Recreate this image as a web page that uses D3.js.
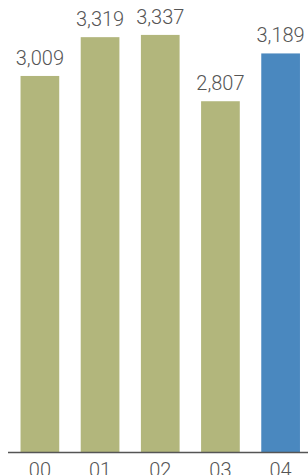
<!DOCTYPE html>
<html><head><meta charset="utf-8">
<script src="https://cdn.jsdelivr.net/npm/d3@7"></script>
<style>body{margin:0;background:#fff}svg{display:block}</style>
</head><body>
<script>
const categories = ["00","01","02","03","04"];
const values = [3009, 3319, 3337, 2807, 3189];
const highlight = ["04"];

const W = 308, H = 475;
const svg = d3.select("body").append("svg").attr("width", W).attr("height", H);
const x = d3.scaleBand().domain(categories).range([8.5, 312]).paddingInner(0.357).paddingOuter(0.2);
const y = d3.scaleLinear().domain([0, 3600]).range([452.5, 2]);

svg.selectAll("rect.bar").data(categories).join("rect")
  .attr("class","bar")
  .attr("x", d => x(d))
  .attr("width", x.bandwidth())
  .attr("y", (d,i) => y(values[i]))
  .attr("height", (d,i) => y(0) - y(values[i]))
  .attr("fill", d => highlight.includes(d) ? "#4a88bf" : "#b2b67c");

const fmt = d3.format(",");
svg.selectAll("text.val").data(categories).join("text")
  .attr("class","val")
  .attr("x", d => x(d) + x.bandwidth()/2)
  .attr("y", (d,i) => y(values[i]) - 11)
  .attr("text-anchor","middle")
  .attr("font-family","Roboto")
  .attr("font-weight",300)
  .attr("font-size",20)
  .attr("fill","#555")
  .text((d,i) => fmt(values[i]));

const axis = d3.axisBottom(x).tickSize(0).tickPadding(10);
const g = svg.append("g").attr("transform", `translate(0,${y(0)})`).call(axis);
g.select(".domain").attr("stroke","#555").attr("stroke-width",1.5).attr("d","M8,0H308");
g.selectAll("text").attr("font-family","Roboto").attr("font-weight",300).attr("font-size",20).attr("fill","#555").attr("dy","0.71em");
</script>
</body></html>
